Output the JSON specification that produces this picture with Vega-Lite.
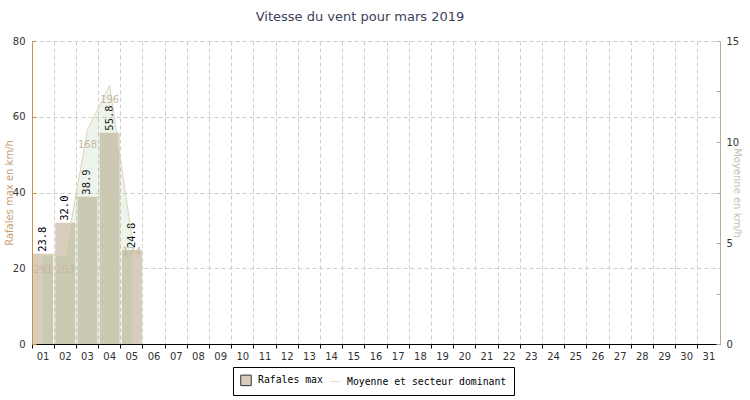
{
  "$schema": "https://vega.github.io/schema/vega-lite/v6.json",
  "width": 688,
  "height": 303,
  "autosize": {"type": "none"},
  "padding": {"left": 32, "top": 41, "right": 30, "bottom": 56},
  "background": "white",
  "title": {
    "text": "Vitesse du vent pour mars 2019",
    "font": "DejaVu Sans",
    "fontSize": 13,
    "fontWeight": "normal",
    "color": "#3a3f5a",
    "anchor": "middle",
    "dx": -16,
    "offset": 12
  },
  "config": {
    "view": {"stroke": null},
    "axis": {
      "labelFont": "DejaVu Sans",
      "labelFontSize": 10,
      "labelColor": "#333333",
      "titleFont": "DejaVu Sans",
      "titleFontSize": 10,
      "titleFontWeight": "normal"
    }
  },
  "data": {
    "values": [
      {"day": "01", "gust": 23.8, "avg": 4.4, "dir": "291"},
      {"day": "02", "gust": 32.0, "avg": 4.4, "dir": "203"},
      {"day": "03", "gust": 38.9, "avg": 10.6, "dir": "168"},
      {"day": "04", "gust": 55.8, "avg": 12.8, "dir": "196"},
      {"day": "05", "gust": 24.8, "avg": 5.3, "dir": "174"}
    ]
  },
  "encoding": {
    "x": {
      "field": "day",
      "type": "ordinal",
      "scale": {
        "domain": ["01","02","03","04","05","06","07","08","09","10","11","12","13","14","15","16","17","18","19","20","21","22","23","24","25","26","27","28","29","30","31"],
        "paddingInner": 0,
        "paddingOuter": 0
      },
      "axis": {
        "title": null,
        "labelAngle": 0,
        "bandPosition": 0,
        "labelPadding": 3,
        "domainColor": "#000000",
        "tickColor": "#000000",
        "tickSize": 4,
        "grid": true,
        "gridColor": "#cccccc",
        "gridDash": [4, 3]
      }
    }
  },
  "layer": [
    {
      "layer": [
        {
          "mark": {"type": "bar", "width": {"band": 0.9}},
          "encoding": {
            "y": {
              "field": "gust",
              "type": "quantitative",
              "scale": {"domain": [0, 80], "nice": false},
              "axis": {
                "title": "Rafales max en km/h",
                "titleColor": "#c8a070",
                "titlePadding": -2,
                "values": [0,5,10,15,20,25,30,35,40,45,50,55,60,65,70,75,80],
                "labelExpr": "datum.value % 20 === 0 ? datum.label : ''",
                "domainColor": "#c89050",
                "tickColor": "#c89050",
                "tickSize": -4,
                "labelPadding": 11,
                "grid": true,
                "gridColor": "#cccccc",
                "gridDash": [4, 3],
                "gridOpacity": {"condition": {"test": "datum.value % 20 === 0", "value": 1}, "value": 0}
              }
            },
            "color": {
              "datum": "Rafales max",
              "type": "nominal",
              "scale": {
                "domain": ["Rafales max", "Moyenne et secteur dominant"],
                "range": ["#d8ccbc", "#e6dcc8"]
              },
              "legend": {
                "title": null,
                "orient": "none",
                "legendX": 201,
                "legendY": 326,
                "direction": "horizontal",
                "strokeColor": "#000000",
                "fillColor": "#ffffff",
                "padding": 7,
                "labelFont": "DejaVu Sans Mono",
                "labelFontSize": 9.8,
                "labelColor": "#000000",
                "labelLimit": 400,
                "symbolSize": 110,
                "columnPadding": 4,
                "labelOffset": 6,
                "encode": {
                  "symbols": {
                    "update": {
                      "shape": {"signal": "datum.value === 'Rafales max' ? 'square' : 'stroke'"},
                      "stroke": {"signal": "datum.value === 'Rafales max' ? '#333333' : '#e6dcc8'"},
                      "strokeWidth": {"value": 1},
                      "fill": {"signal": "datum.value === 'Rafales max' ? '#d8ccbc' : 'transparent'"}
                    }
                  }
                }
              }
            }
          }
        },
        {
          "mark": {"type": "text", "angle": -90, "align": "left", "baseline": "middle", "dx": 2, "font": "DejaVu Sans Mono", "fontSize": 10.5, "color": "#000000"},
          "encoding": {
            "y": {"field": "gust", "type": "quantitative", "scale": {"domain": [0, 80], "nice": false}},
            "text": {"field": "gust", "type": "quantitative", "format": ".1f"}
          }
        }
      ]
    },
    {
      "layer": [
        {
          "mark": {"type": "area", "fill": "#91b98b", "fillOpacity": 0.16, "line": {"color": "#e0d2b4", "strokeWidth": 1}},
          "encoding": {
            "x": {"field": "day", "type": "ordinal", "bandPosition": 0.5},
            "y": {
              "field": "avg",
              "type": "quantitative",
              "scale": {"domain": [0, 15], "nice": false},
              "axis": {
                "orient": "right",
                "title": "Moyenne en km/h",
                "titleColor": "#c8c0b0",
                "titlePadding": -7,
                "values": [0,1.25,2.5,3.75,5,6.25,7.5,8.75,10,11.25,12.5,13.75,15],
                "labelExpr": "datum.value % 5 === 0 ? datum.label : ''",
                "domainColor": "#b8ae98",
                "tickColor": "#b8ae98",
                "tickSize": -4,
                "labelPadding": 10,
                "grid": false
              }
            }
          }
        },
        {
          "mark": {"type": "text", "baseline": "middle", "align": "center", "dy": 15, "font": "DejaVu Sans", "fontSize": 10, "color": "#c4b8a0"},
          "encoding": {
            "x": {"field": "day", "type": "ordinal", "bandPosition": 0.5},
            "y": {"field": "avg", "type": "quantitative", "scale": {"domain": [0, 15], "nice": false}},
            "text": {"field": "dir", "type": "nominal"}
          }
        }
      ]
    }
  ],
  "resolve": {"scale": {"y": "independent"}}
}
